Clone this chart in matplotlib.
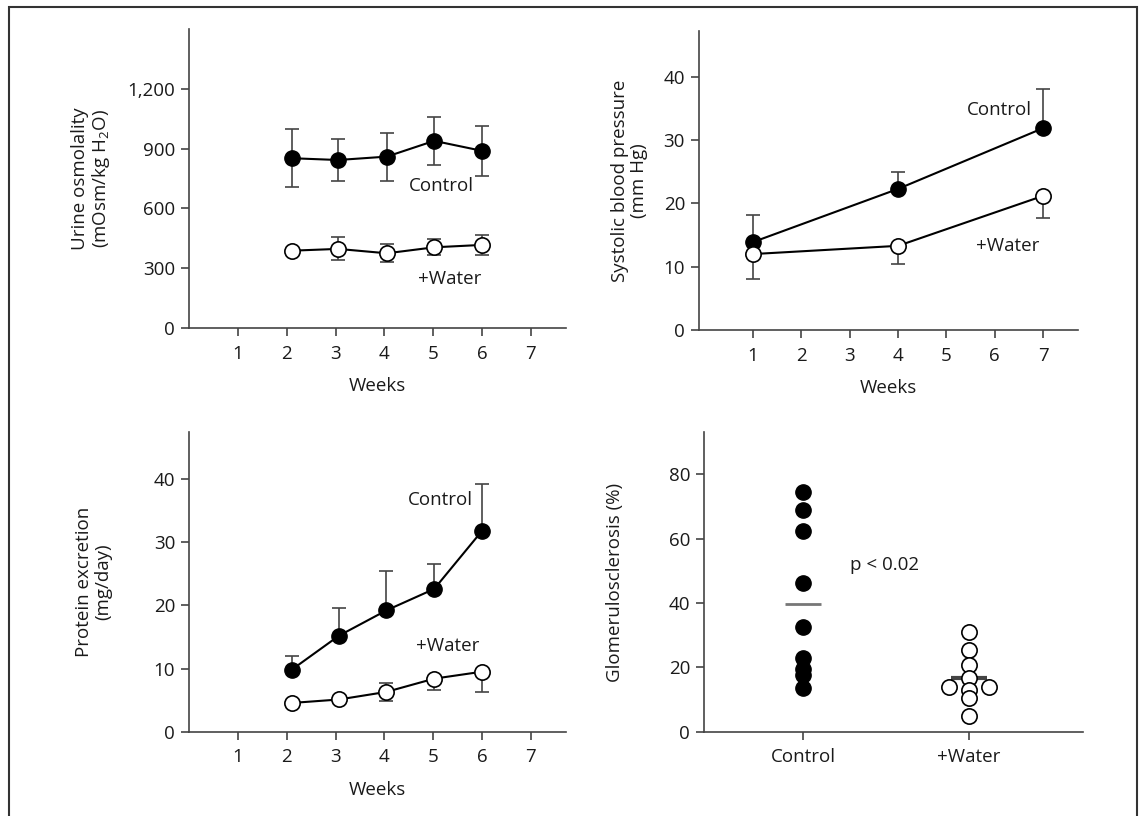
import numpy as np
import matplotlib

matplotlib.use("Agg")
import matplotlib.pyplot as plt
from matplotlib.patches import Rectangle
from matplotlib.ticker import FuncFormatter

plt.rcParams["font.family"] = ["Open Sans", "DejaVu Sans"]
plt.rcParams["mathtext.fontset"] = "custom"
plt.rcParams["mathtext.rm"] = "Open Sans"
plt.rcParams["mathtext.it"] = "Open Sans:italic"

# --- urine osmolality (top left) ---
osm_weeks = [2.1, 3.05, 4.05, 5.02, 6.0]
osm_ctrl = [852, 843, 860, 939, 889]
osm_ctrl_err = [145, 106, 120, 120, 125]
osm_water = [388, 397, 375, 405, 417]
osm_water_err = [0, 58, 45, 40, 52]

# --- systolic blood pressure (top right) ---
bp_weeks = [1, 4, 7]
bp_ctrl = [13.9, 22.3, 31.9]
bp_ctrl_err_hi = [4.2, 2.7, 6.2]
bp_water = [12.0, 13.3, 21.2]
bp_water_err_lo = [3.9, 2.9, 3.5]

# --- protein excretion (bottom left) ---
prot_weeks = [2.1, 3.07, 4.04, 5.02, 6.0]
prot_ctrl = [9.8, 15.2, 19.2, 22.6, 31.8]
prot_ctrl_err_hi = [2.2, 4.45, 6.3, 3.9, 7.4]
prot_water = [4.55, 5.1, 6.3, 8.4, 9.5]
prot_water_err_lo = [0, 0, 1.4, 1.8, 3.2]
prot_water_err_hi = [0, 0, 1.4, 0, 0]

# --- glomerulosclerosis (bottom right) ---
gs_groups = ["Control", "+Water"]
gs_ctrl = [74.5, 68.8, 62.5, 46.2, 32.5, 23.0, 19.4, 17.6, 13.5]
gs_water = [31.1, 25.5, 20.7, 16.6, 13.0, 10.4, 4.8, 14.0, 14.0]
gs_water_offset = [0, 0, 0, 0, 0, 0, 0, -0.12, 0.12]

AX_COLOR = "#444444"
TXT = "#1a1a1a"
FS = 13.5
MS = 11

fig = plt.figure(figsize=(11.43, 8.16), dpi=100)


def style_axes(ax):
    for s in ("top", "right"):
        ax.spines[s].set_visible(False)
    for s in ("left", "bottom"):
        ax.spines[s].set_color(AX_COLOR)
        ax.spines[s].set_linewidth(1.2)
    ax.tick_params(direction="out", length=6, width=1.2, color=AX_COLOR,
                   labelsize=FS, labelcolor=TXT, pad=4)
    ax.tick_params(axis="x", pad=6)


def line_pair(ax, x, yc, yw, errc, errw):
    ax.errorbar(x, yc, yerr=errc, fmt="none", ecolor=AX_COLOR, elinewidth=1.2,
                capsize=5, capthick=1.2, zorder=1)
    ax.errorbar(x, yw, yerr=errw, fmt="none", ecolor=AX_COLOR, elinewidth=1.2,
                capsize=5, capthick=1.2, zorder=1)
    ax.plot(x, yc, "-o", color="black", lw=1.5, ms=MS, mfc="black", mec="black", zorder=3)
    ax.plot(x, yw, "-o", color="black", lw=1.5, ms=MS, mfc="white", mec="black",
            mew=1.2, zorder=3)


def week_labels(ax, ylab, ycoord):
    ax.set_ylabel(ylab, fontsize=FS, color=TXT, linespacing=1.05)
    ax.set_xlabel("Weeks", fontsize=FS, color=TXT)
    ax.yaxis.set_label_coords(ycoord, 0.5)
    ax.xaxis.set_label_coords(0.5, -0.165)


# top left
ax1 = fig.add_axes([0.1654, 0.598, 0.3298, 0.3664])
style_axes(ax1)
line_pair(ax1, osm_weeks, osm_ctrl, osm_water, osm_ctrl_err, osm_water_err)
ax1.set_xlim(0, 7.72)
ax1.set_ylim(0, 1500)
ax1.set_xticks(range(1, 8))
ax1.set_yticks(range(0, 1201, 300))
ax1.yaxis.set_major_formatter(FuncFormatter(lambda v, p: f"{v:,.0f}"))
week_labels(ax1, "Urine osmolality\n(mOsm/kg H$_2$O)", -0.205)
ax1.text(5.17, 713, "Control", fontsize=FS, color=TXT, ha="center", va="center")
ax1.text(5.34, 246, "+Water", fontsize=FS, color=TXT, ha="center", va="center")

# top right
ax2 = fig.add_axes([0.6115, 0.5956, 0.3316, 0.3668])
style_axes(ax2)
zeros3 = [0] * len(bp_weeks)
line_pair(ax2, bp_weeks, bp_ctrl, bp_water,
          [zeros3, bp_ctrl_err_hi], [bp_water_err_lo, zeros3])
ax2.set_xlim(-0.12, 7.72)
ax2.set_ylim(0, 47.3)
ax2.set_xticks(range(1, 8))
ax2.set_yticks(range(0, 41, 10))
week_labels(ax2, "Systolic blood pressure\n(mm Hg)", -0.135)
ax2.text(6.09, 34.8, "Control", fontsize=FS, color=TXT, ha="center", va="center")
ax2.text(6.26, 13.2, "+Water", fontsize=FS, color=TXT, ha="center", va="center")

# bottom left
ax3 = fig.add_axes([0.1654, 0.1033, 0.3298, 0.3669])
style_axes(ax3)
zeros5 = [0] * len(prot_weeks)
line_pair(ax3, prot_weeks, prot_ctrl, prot_water,
          [zeros5, prot_ctrl_err_hi], [prot_water_err_lo, prot_water_err_hi])
ax3.set_xlim(0, 7.72)
ax3.set_ylim(0, 47.4)
ax3.set_xticks(range(1, 8))
ax3.set_yticks(range(0, 41, 10))
week_labels(ax3, "Protein excretion\n(mg/day)", -0.205)
ax3.text(5.15, 36.7, "Control", fontsize=FS, color=TXT, ha="center", va="center")
ax3.text(5.3, 13.6, "+Water", fontsize=FS, color=TXT, ha="center", va="center")

# bottom right
ax4 = fig.add_axes([0.6159, 0.1033, 0.3316, 0.3669])
style_axes(ax4)
ax4.plot([1] * len(gs_ctrl), gs_ctrl, "o", ls="none", ms=MS, mfc="black", mec="black", zorder=3)
ax4.plot([2 + o for o in gs_water_offset], gs_water, "o", ls="none", ms=MS,
         mfc="white", mec="black", mew=1.2, zorder=3)
ax4.hlines(np.mean(gs_ctrl), 0.89, 1.11, color="#777777", lw=2, zorder=2)
ax4.hlines(np.mean(gs_water), 1.89, 2.11, color="#444444", lw=3, zorder=2)
ax4.set_xlim(0.4, 2.69)
ax4.set_ylim(0, 93)
ax4.set_xticks([1, 2])
ax4.set_xticklabels(gs_groups)
ax4.set_yticks(range(0, 81, 20))
ax4.set_ylabel("Glomerulosclerosis (%)", fontsize=FS, color=TXT)
ax4.yaxis.set_label_coords(-0.21, 0.5)
ax4.text(1.49, 51.8, "p < 0.02", fontsize=FS, color=TXT, ha="center", va="center")

# frame around the whole figure (open at the bottom edge)
fig.add_artist(Rectangle((0.0079, -0.05), 0.9866, 0.9914 + 0.05, transform=fig.transFigure,
                         fill=False, edgecolor="#333333", lw=1.5))

fig.savefig("out.png", dpi=100)
